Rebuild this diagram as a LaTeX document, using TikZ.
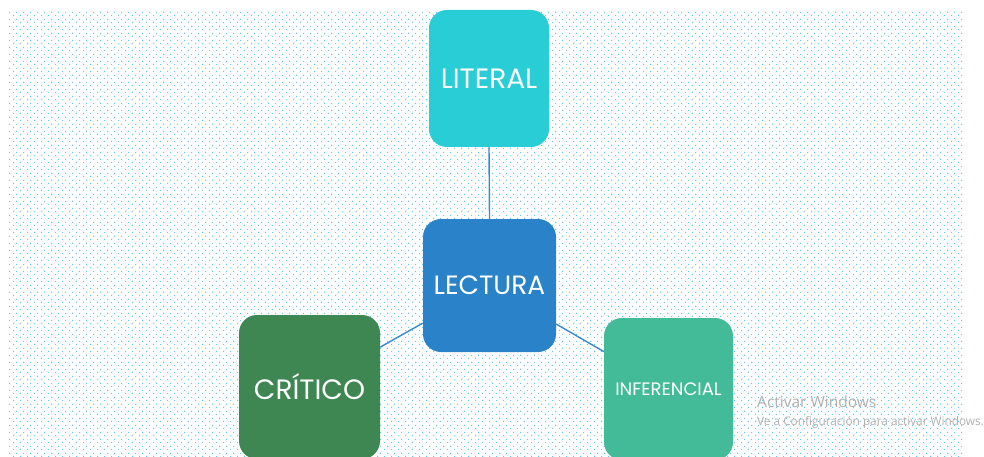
\documentclass[tikz,border=0pt]{standalone}
\usepackage{fontspec}
\setmainfont{Poppins}
\newfontfamily\notefont{Open Sans}
\usetikzlibrary{positioning, patterns.meta}
\definecolor{literalcyan}{HTML}{29CDD6}
\definecolor{lecturablue}{HTML}{2A82C8}
\definecolor{criticogreen}{HTML}{3E8752}
\definecolor{inferencialgreen}{HTML}{43BB98}
\definecolor{dotblue}{HTML}{62C8EC}
\definecolor{linkblue}{HTML}{3A8ACB}
\definecolor{notegray}{HTML}{B0B0B0}
\tikzdeclarepattern{
  name=bgdots,
  type=uncolored,
  bounding box={(0pt,0pt) and (6.5pt,6.5pt)},
  tile size={(6.5pt,6.5pt)},
  code={
    \fill (0pt,0pt) rectangle (1.2pt,1.2pt);
    \fill (3.25pt,3.25pt) rectangle (4.45pt,4.45pt);
  }
}
\begin{document}
\begin{tikzpicture}[x=1pt, y=-1pt,
    levelbox/.style={rounded corners=18pt, inner sep=0pt, text=white, align=center},
    link/.style={draw=linkblue, line width=1.4pt}]
  \useasboundingbox (0,0) rectangle (984,457);
  % dotted background
  \fill[pattern=bgdots, pattern color=dotblue] (8,12) rectangle (964,457);

  % the four boxes
  \node[levelbox, fill=literalcyan, minimum width=120pt, minimum height=137pt,
        font=\fontsize{28}{30}\selectfont] (literal) at (489,78.5) {LITERAL};
  \node[levelbox, fill=lecturablue, minimum width=133pt, minimum height=133pt,
        font=\fontsize{26.5}{30}\selectfont] (lectura) at (489.5,285.5) {LECTURA};
  \node[levelbox, fill=criticogreen, minimum width=141pt, minimum height=144pt,
        font=\fontsize{28}{30}\selectfont] (critico) at (309.5,387) {CRÍTICO};
  \node[levelbox, fill=inferencialgreen, minimum width=129pt, minimum height=142pt,
        font=\fontsize{18}{20}\selectfont] (inferencial) at (668.5,389) {INFERENCIAL};

  % connectors
  \draw[link] (literal.south) -- (lectura.north);
  \draw[link] (lectura) -- (critico);
  \draw[link] (lectura) -- (inferencial);

  % watermark
  \node[anchor=north west, inner sep=0pt, text=notegray, align=left,
        font=\notefont\fontsize{15.5}{16}\selectfont] (activar) at (757,396) {Activar Windows};
  \node[anchor=north west, inner sep=0pt, text=notegray, align=left,
        font=\notefont\fontsize{11.8}{13}\selectfont] (config) at (757,416) {Ve a Configuración para activar Windows.};
\end{tikzpicture}
\end{document}
